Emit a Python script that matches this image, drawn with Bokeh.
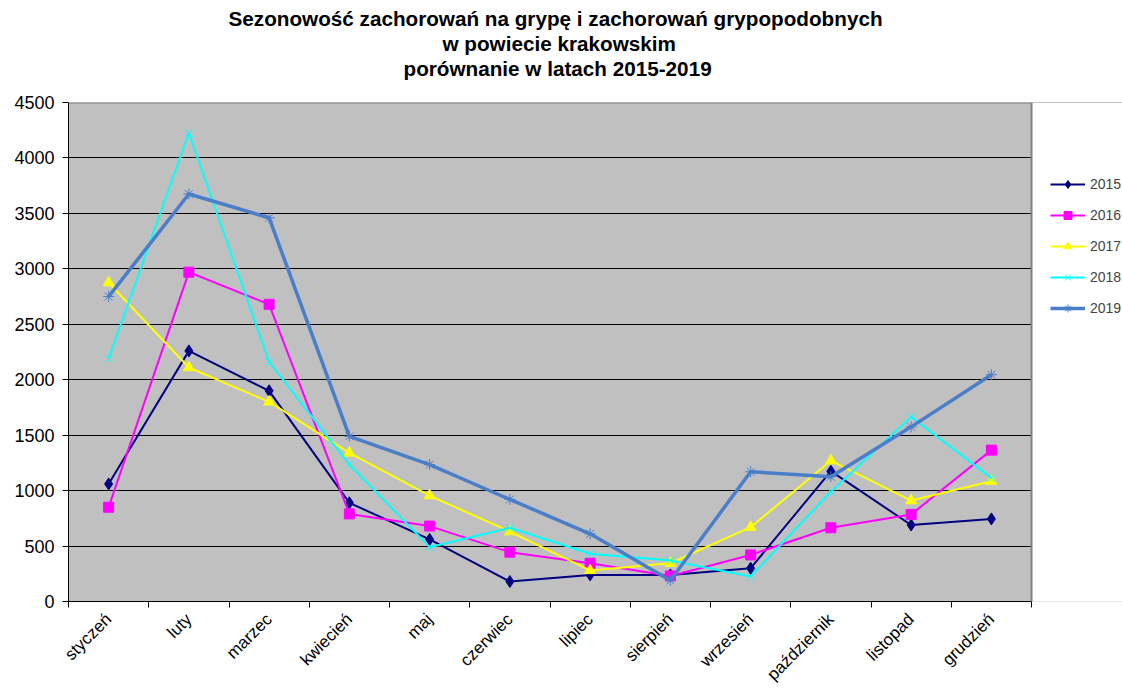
from math import pi
from bokeh.plotting import figure
from bokeh.models import (Title, FixedTicker, Legend, LegendItem, Range1d,
                          BoxAnnotation, Span)
from bokeh.embed import file_html
from bokeh.resources import INLINE

months = ["styczeń", "luty", "marzec", "kwiecień", "maj", "czerwiec",
          "lipiec", "sierpień", "wrzesień", "październik", "listopad", "grudzień"]
years = ["2015", "2016", "2017", "2018", "2019"]
v2015 = [1060, 2260, 1900, 890, 560, 180, 240, 240, 300, 1175, 690, 745]
v2016 = [850, 2970, 2680, 790, 680, 445, 345, 230, 420, 665, 785, 1365]
v2017 = [2875, 2110, 1800, 1340, 955, 630, 280, 345, 670, 1270, 910, 1085]
v2018 = [2190, 4225, 2160, 1235, 490, 665, 430, 370, 225, 990, 1665, 1115]
v2019 = [2750, 3675, 3460, 1490, 1235, 920, 610, 190, 1170, 1125, 1575, 2045]
yticks = [0, 500, 1000, 1500, 2000, 2500, 3000, 3500, 4000, 4500]
title_lines = ["Sezonowość zachorowań na grypę i zachorowań grypopodobnych",
               "w powiecie krakowskim",
               "porównanie w latach 2015-2019"]

FONT = "Liberation Sans"
W, H = 1122, 693
LEFT, TOP, BOTTOM = 68, 102, 92
PLOT_RIGHT = 1031          # pixel where the grey plot area ends
n = len(months)
ymax = yticks[-1]
# the frame runs to the right edge so that the legend can sit beside the grey area
x_end = n * (W - LEFT) / (PLOT_RIGHT - LEFT)

p = figure(width=W, height=H, output_backend="svg", toolbar_location=None,
           title=title_lines[0],
           x_range=Range1d(0, x_end), y_range=Range1d(0, ymax),
           min_border_left=LEFT, min_border_right=0, min_border_top=TOP,
           min_border_bottom=BOTTOM)


def style_title(t, offset, size="20.7px"):
    t.align = "left"
    t.offset = offset
    t.text_font = FONT
    t.text_font_size = size
    t.text_font_style = "bold"
    t.text_color = "black"
    t.standoff = 0


style_title(p.title, 160)
spacer = Title(text=" ")
style_title(spacer, 0, "19px")
p.add_layout(spacer, "above")
t3 = Title(text=title_lines[2])
style_title(t3, 335)
p.add_layout(t3, "above")
t2 = Title(text=title_lines[1])
style_title(t2, 374)
p.add_layout(t2, "above")

p.background_fill_color = "#C0C0C0"
p.border_fill_color = "white"
p.outline_line_color = None

p.xgrid.visible = False
p.ygrid.grid_line_color = "black"
p.ygrid.grid_line_width = 1
p.ygrid.ticker = FixedTicker(ticks=yticks)

centers = [i + 0.5 for i in range(n)]
bounds = list(range(n + 1))
p.xaxis.bounds = (0, n)
p.xaxis.ticker = FixedTicker(ticks=centers, minor_ticks=bounds)
p.xaxis.major_label_overrides = {c: m for c, m in zip(centers, months)}
p.xaxis.major_label_orientation = pi / 4
p.xaxis.major_tick_out = 0
p.xaxis.major_tick_in = 0
p.xaxis.minor_tick_out = 6
p.xaxis.minor_tick_in = 0
p.xaxis.minor_tick_line_color = "black"
p.xaxis.axis_line_color = "black"
p.xaxis.major_label_text_font = FONT
p.xaxis.major_label_text_font_size = "17px"
p.xaxis.major_label_text_color = "black"
p.xaxis.major_label_standoff = 9

p.yaxis.ticker = FixedTicker(ticks=yticks)
p.yaxis.major_tick_out = 6
p.yaxis.major_tick_in = 0
p.yaxis.minor_tick_line_color = None
p.yaxis.axis_line_color = "black"
p.yaxis.major_tick_line_color = "black"
p.yaxis.major_label_text_font = FONT
p.yaxis.major_label_text_font_size = "18px"
p.yaxis.major_label_text_color = "black"
p.yaxis.major_label_standoff = 8

series = [
    (v2015, "#000080", 2, "diamond", 12, 1),
    (v2016, "#FF00FF", 2, "square", 10, 1),
    (v2017, "#FFFF00", 2, "triangle", 11, 1),
    (v2018, "#00FFFF", 2, "x", 11, 1),
    (v2019, "#4A7EC8", 3.5, "asterisk", 11, 1),
]
items = []
for yr, (vals, col, lw, mk, ms, mlw) in zip(years, series):
    r1 = p.line(centers, vals, line_color=col, line_width=lw)
    r2 = p.scatter(centers, vals, marker=mk, size=ms, fill_color=col,
                   line_color=col, line_width=mlw)
    items.append(LegendItem(label=yr, renderers=[r1, r2]))

# grey plot-area border (top), white cover to the right of the plot area, right border
p.add_layout(Span(location=ymax, dimension="width", line_color="#808080", line_width=2))
p.add_layout(BoxAnnotation(left=n, fill_color="white", fill_alpha=1.0,
                           line_color=None))
p.add_layout(Span(location=n, dimension="height", line_color="#808080", line_width=2))

legend = Legend(items=items, location=(1050 - LEFT, 283), orientation="vertical")
legend.glyph_width = 35
legend.glyph_height = 20
legend.label_height = 20
legend.spacing = 11
legend.padding = 0
legend.margin = 0
legend.label_standoff = 5
legend.label_text_font = FONT
legend.label_text_font_size = "14px"
legend.border_line_color = None
legend.background_fill_alpha = 0
p.add_layout(legend, "center")

open("out.html", "w").write(file_html(p, INLINE))
